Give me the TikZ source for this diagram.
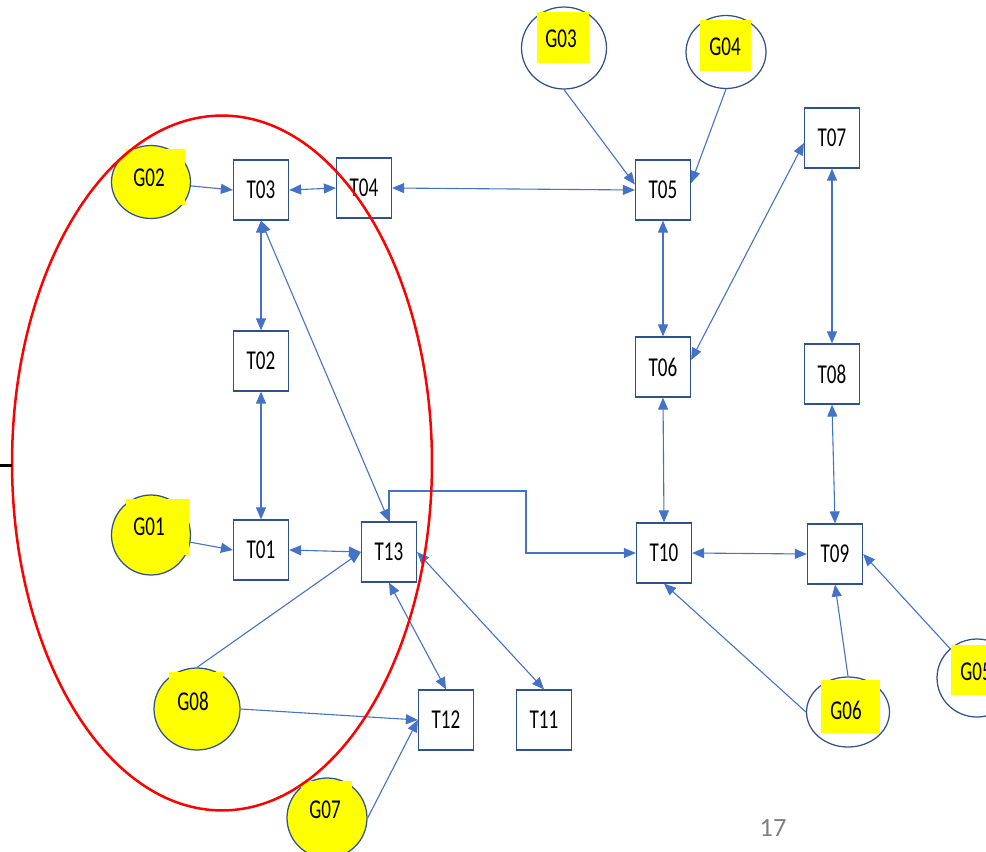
\documentclass[tikz,border=0pt]{standalone}
\usepackage{fontspec}
\newfontfamily\labfont[FakeStretch=0.7]{Carlito}
\newfontfamily\pgfont{Carlito}
\usetikzlibrary{arrows.meta,shapes.geometric}
\definecolor{edgeblue}{HTML}{4472C4}
\definecolor{boxblue}{HTML}{2F528F}
\definecolor{hlyellow}{HTML}{FFFF00}
\definecolor{pggray}{HTML}{7F7F7F}
\tikzset{
  tbox/.style={draw=boxblue, line width=0.25mm, fill=white, minimum width=11mm, minimum height=12mm, inner sep=0pt, font=\labfont\fontsize{15.5}{17}\selectfont},
  gell/.style={draw=boxblue, line width=0.25mm, ellipse, inner sep=0pt},
  gfill/.style={gell, fill=hlyellow},
  gtext/.style={inner sep=0pt, font=\labfont\fontsize{15.5}{17}\selectfont},
  conn/.style={draw=edgeblue, line width=0.22mm, -{Triangle[length=2.4mm,width=2mm]}},
  dconn/.style={draw=edgeblue, line width=0.22mm, {Triangle[length=2.4mm,width=2mm]}-{Triangle[length=2.4mm,width=2mm]}},
}
\begin{document}
\begin{tikzpicture}[x=0.02cm,y=-0.02cm]
\useasboundingbox (0,0) rectangle (986,851);
\clip (0,0) rectangle (986,851);
% goal ellipses
\node[gfill, minimum width=15.8mm, minimum height=14.6mm] (G02) at (151,182) {};
\node[gfill, minimum width=15.8mm, minimum height=16mm] (G01) at (151,535) {};
\node[gfill, minimum width=17.2mm, minimum height=16.4mm] (G08) at (197,709) {};
\node[gfill, minimum width=16mm, minimum height=16mm] (G07) at (327,818) {};
\node[gell, minimum width=17mm, minimum height=16.4mm] (G03) at (564,48) {};
\node[gell, minimum width=16mm, minimum height=14.6mm] (G04) at (726,52) {};
\node[gell, minimum width=16.6mm, minimum height=14mm] (G06) at (848,712) {};
\node[gell, minimum width=16mm, minimum height=15.6mm] (G05) at (977,678) {};
% highlight rectangles
\fill[hlyellow] (126,149) rectangle (185,205);
\fill[hlyellow] (126,499) rectangle (189,555);
\fill[hlyellow] (169,672) rectangle (223,725);
\fill[hlyellow] (301,781) rectangle (352,835);
\fill[hlyellow] (537,12) rectangle (589,63);
\fill[hlyellow] (700,20) rectangle (751,71);
\fill[hlyellow] (821,680) rectangle (880,733);
\fill[hlyellow] (951,645) rectangle (1000,695);
\node[gtext] (G02t) at (149,178) {G02};
\node[gtext] (G01t) at (149,527) {G01};
\node[gtext] (G08t) at (193,701) {G08};
\node[gtext] (G07t) at (325,810) {G07};
\node[gtext] (G03t) at (561,39) {G03};
\node[gtext] (G04t) at (725,47) {G04};
\node[gtext] (G06t) at (846,710) {G06};
\node[gtext] (G05t) at (976,672) {G05};
% task boxes
\node[tbox] (T03) at (261,190) {T03};
\node[tbox] (T04) at (364,188) {T04};
\node[tbox] (T05) at (663,190) {T05};
\node[tbox] (T07) at (832,138) {T07};
\node[tbox] (T02) at (261,361) {T02};
\node[tbox] (T06) at (663,367) {T06};
\node[tbox] (T08) at (832,374) {T08};
\node[tbox] (T01) at (261,550) {T01};
\node[tbox] (T13) at (389,552) {T13};
\node[tbox] (T10) at (664,553) {T10};
\node[tbox] (T09) at (835,554) {T09};
\node[tbox] (T12) at (446,720) {T12};
\node[tbox] (T11) at (544,720) {T11};
% connectors
\draw[conn] (G02) -- (T03.west);
\draw[dconn] (T03.east) -- (T04.west);
\draw[dconn] (T04.east) -- (T05.west);
\draw[conn] (G03.south) -- (T05.169);
\draw[conn] (G04.south) -- (T05.14);
\draw[dconn] (T05.south) -- (T06.north);
\draw[dconn] (T06.14) -- (T07.190);
\draw[dconn] (T07.south) -- (T08.north);
\draw[dconn] (T06.south) -- (T10.north);
\draw[dconn] (T08.south) -- (T09.north);
\draw[dconn] (T10.east) -- (T09.west);
\draw[conn] (G05) -- (T09.east);
\draw[conn] (G06.north) -- (T09.south);
\draw[conn] (G06.west) -- (T10.south);
\coordinate (e1) at (526,491);
\draw[conn] (T13.north) |- (e1) |- (T10.west);
\draw[dconn] (T03.south) -- (T02.north);
\draw[dconn] (T02.south) -- (T01.north);
\draw[dconn] (T03.south) -- (T13.north);
\draw[conn] (G01) -- (T01.west);
\draw[dconn] (T01.east) -- (T13.west);
\draw[conn] (G08.north) -- (T13.west);
\draw[conn] (G08.east) -- (T12.west);
\draw[conn] (G07.east) -- (T12.west);
\draw[dconn] (T13.south) -- (T12.north);
\draw[dconn] (T13.east) -- (T11.north);
% red grouping ellipse
\node[draw=red, line width=0.5mm, ellipse, minimum width=84mm, minimum height=139mm, inner sep=0pt] (grp) at (222,463) {};
% short black line at the left edge
\coordinate (bl1) at (0,465);
\coordinate (bl2) at (12,465);
\draw[black, line width=0.6mm] (bl1) -- (bl2);
% page number
\node[inner sep=0pt, text=pggray, font=\pgfont\fontsize{15}{17}\selectfont] (pg) at (773,828) {17};
\end{tikzpicture}
\end{document}
